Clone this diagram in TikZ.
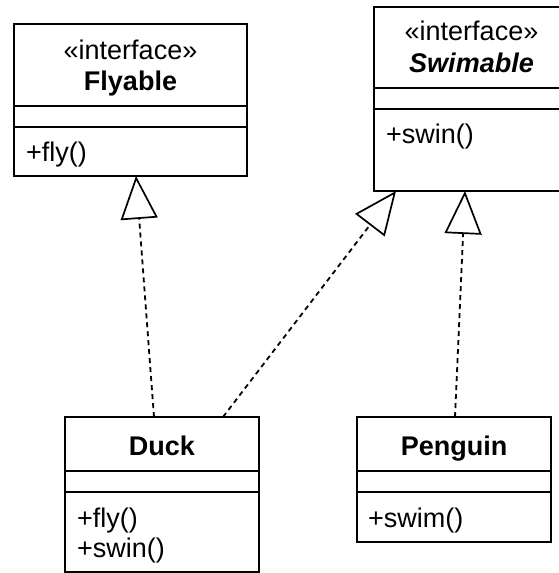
\documentclass[tikz,border=0pt]{standalone}
\usepackage{fontspec}
\setmainfont{Liberation Sans}
\usetikzlibrary{arrows.meta,calc}

\begin{document}
\begin{tikzpicture}[x=1pt,y=-1pt,
  classbox/.style={draw, line width=1.8pt, rectangle, inner sep=0pt, outer sep=0pt, anchor=north west},
  sep/.style={line width=1.8pt},
  lbl/.style={font=\fontsize{27}{32}\selectfont, inner sep=0pt, anchor=base},
  member/.style={font=\fontsize{27}{32}\selectfont, inner sep=0pt, anchor=base west},
  realize/.style={line width=1.8pt, dash pattern=on 5pt off 4pt,
    -{Triangle[open, length=43pt, width=37pt, line width=1.7pt]}}
]
\useasboundingbox (0,0) rectangle (559,573);
\clip (0,0) rectangle (559,573);

% Flyable interface
\node[classbox, minimum width=233pt, minimum height=152pt] (fly) at (14,24) {};
\draw[sep] (fly.west |- 0,106) -- (fly.east |- 0,106);
\draw[sep] (fly.west |- 0,127) -- (fly.east |- 0,127);
\node[lbl] (flyst) at (130.5,59) {«interface»};
\node[lbl] (flyname) at (130.5,90) {\bfseries Flyable};
\node[member] (flyop) at (26,161) {+fly()};

% Swimable interface
\node[classbox, minimum width=195pt, minimum height=184pt] (swim) at (374,7) {};
\draw[sep] (swim.west |- 0,88) -- (swim.east |- 0,88);
\draw[sep] (swim.west |- 0,109) -- (swim.east |- 0,109);
\node[lbl] (swimst) at (471.5,40) {«interface»};
\node[lbl] (swimname) at (471.5,72) {\bfseries\itshape Swimable};
\node[member] (swimop) at (386,143) {+swin()};

% Duck class
\node[classbox, minimum width=194pt, minimum height=155pt] (duck) at (65,417) {};
\draw[sep] (duck.west |- 0,471) -- (duck.east |- 0,471);
\draw[sep] (duck.west |- 0,492) -- (duck.east |- 0,492);
\node[lbl] (duckname) at (162,455) {\bfseries Duck};
\node[member] (duckop1) at (77,527) {+fly()};
\node[member] (duckop2) at (77,557) {+swin()};

% Penguin class
\node[classbox, minimum width=194pt, minimum height=125pt] (peng) at (357,417) {};
\draw[sep] (peng.west |- 0,471) -- (peng.east |- 0,471);
\draw[sep] (peng.west |- 0,492) -- (peng.east |- 0,492);
\node[lbl] (pengname) at (454,455) {\bfseries Penguin};
\node[member] (pengop) at (368,527) {+swim()};

% Interface realizations
\draw[realize] ([xshift=-8pt]duck.north) -- ([xshift=5.5pt]fly.south);
\draw[realize] ([xshift=61pt]duck.north) -- ([xshift=-75.5pt]swim.south);
\draw[realize] ([xshift=1pt]peng.north) -- ([xshift=-6.5pt]swim.south);
\end{tikzpicture}
\end{document}
